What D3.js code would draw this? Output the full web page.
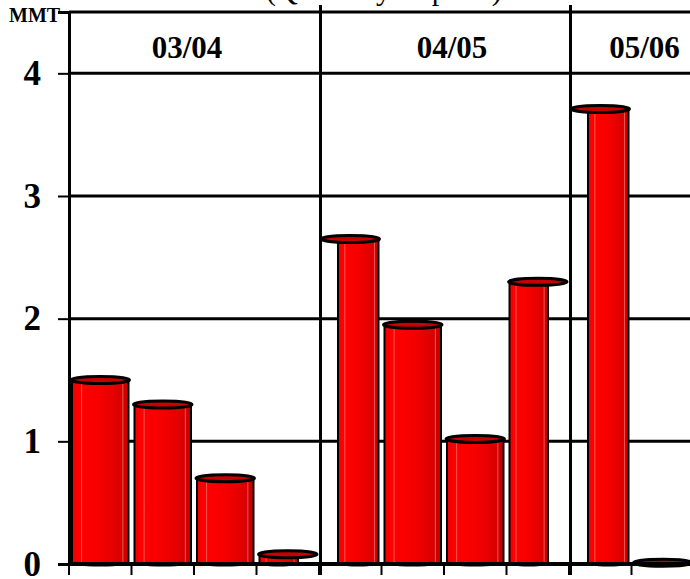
<!DOCTYPE html>
<html>
<head>
<meta charset="utf-8">
<script src="https://cdn.jsdelivr.net/npm/d3@7"></script>
<style>
  html, body { margin: 0; padding: 0; background: #fff; overflow: hidden; }
  text { font-family: "Liberation Serif", "Times New Roman", serif; fill: #000; }
</style>
</head>
<body>
<svg id="chart" width="690" height="579"></svg>
<script>
// Marketing years and how many quarters of each are shown
const periods = ["03/04", "04/05", "05/06"];
const quartersPerPeriod = [4, 4, 2];
const quarterNames = ["Q1", "Q2", "Q3", "Q4"];

// Quarterly exports, million metric tons
const exportsMMT = [1.5, 1.3, 0.7, 0.08, 2.65, 1.95, 1.02, 2.3, 3.71, 0.01];

const yTicks = [0, 1, 2, 3, 4];
const yTop = 4.5;
const title = "(Quarterly Exports)";
const unitLabel = "MMT";

// category keys: one per quarter
const categories = [];
periods.forEach((p, i) => {
  for (let q = 0; q < quartersPerPeriod[i]; q++) categories.push(p + " " + quarterNames[q]);
});
const data = categories.map((c, i) => ({ key: c, period: c.split(" ")[0], value: exportsMMT[i] }));

const svg = d3.select("#chart");
const plotLeft = 69, plotRight = 694, plotBottom = 564, plotTop = 12;
const headingNudge = [-7, 8, 13];

const x = d3.scaleBand().domain(categories).range([plotLeft, plotRight]).padding(0);
const y = d3.scaleLinear().domain([0, yTop]).range([plotBottom, plotTop]);

// period spans in pixels; heading sits near the boundary of the 2nd/3rd quarter
const spans = [];
let idx = 0;
periods.forEach((p, i) => {
  const n = quartersPerPeriod[i];
  const first = categories[idx], last = categories[idx + n - 1];
  spans.push({
    period: p, x0: x(first), x1: x(last) + x.bandwidth(),
    mid: x(categories[idx + Math.min(2, n - 1)]) + headingNudge[i]
  });
  idx += n;
});
const separators = spans.slice(1).map(s => s.x0);

// gradient for cylinder bodies
const defs = svg.append("defs");
const grad = defs.append("linearGradient").attr("id", "cyl").attr("x1", 0).attr("x2", 1).attr("y1", 0).attr("y2", 0);
[[0, "#f00000"], [0.12, "#ff0000"], [0.45, "#f80000"], [0.7, "#e80000"], [0.9, "#d40000"], [1, "#c00000"]]
  .forEach(([o, c]) => grad.append("stop").attr("offset", o).attr("stop-color", c));

// title (partly above the frame)
svg.append("text").attr("x", 384).attr("y", 0).attr("text-anchor", "middle")
  .style("font-size", "30px").text(title);

// unit label
svg.append("text").attr("x", 9).attr("y", 22)
  .style("font-size", "20px").style("font-weight", "bold").text(unitLabel);

// horizontal grid lines (incl. the top frame line)
svg.append("g").selectAll("line").data(yTicks.filter(d => d > 0).concat([yTop])).join("line")
  .attr("x1", plotLeft).attr("x2", plotRight)
  .attr("y1", d => y(d)).attr("y2", d => y(d))
  .attr("stroke", "#000").attr("stroke-width", 3);

// y axis with outward ticks
const yAxis = svg.append("g").attr("transform", `translate(${plotLeft},0)`)
  .call(d3.axisLeft(y).tickValues(yTicks).tickSize(11).tickPadding(17).tickFormat(d3.format("d")));
yAxis.select(".domain").attr("stroke", "#000").attr("stroke-width", 3);
yAxis.selectAll(".tick line").attr("stroke", "#000").attr("stroke-width", 2);
yAxis.selectAll(".tick text")
  .style("font-family", '"Liberation Serif", "Times New Roman", serif')
  .style("font-size", "35px").style("font-weight", "bold").attr("fill", "#000").attr("dy", "0.32em");

// period separators
svg.append("g").selectAll("line").data(separators).join("line")
  .attr("x1", d => d + 1.5).attr("x2", d => d + 1.5).attr("y1", 5).attr("y2", 575)
  .attr("stroke", "#000").attr("stroke-width", 3);

// period headings
svg.append("g").selectAll("text").data(spans).join("text")
  .attr("x", d => d.mid).attr("y", 58).attr("text-anchor", "middle")
  .style("font-size", "31px").style("font-weight", "bold").text(d => d.period);

// cylinders
const ry = 3.5;
const bars = svg.append("g").selectAll("g").data(data).join("g");
bars.each(function(d) {
  const g = d3.select(this);
  const bx0 = x(d.key) + 3, bx1 = x(d.key) + x.bandwidth() - 3;
  let b0 = bx0, b1 = bx1;
  separators.forEach(s => {
    if (bx0 - s >= 0 && bx0 - s < 20) b0 = s + 19;
    if (s - bx1 >= 0 && s - bx1 < 20) b1 = s - 21;
  });
  const yt = y(d.value), yb = y(0) - 2;
  const rx = (b1 - b0) / 2;
  if (yb - yt > 0.5) {
    g.append("path")
      .attr("d", `M${b0},${yt}L${b1},${yt}L${b1},${yb}A${rx},${ry} 0 0 1 ${b0},${yb}Z`)
      .attr("fill", "url(#cyl)");
    // soft highlight streaks
    [0.17, 0.9].forEach(f => g.append("line")
      .attr("x1", b0 + f * (b1 - b0)).attr("x2", b0 + f * (b1 - b0))
      .attr("y1", yt).attr("y2", yb + 2)
      .attr("stroke", "#ff9a9a").attr("stroke-opacity", 0.55).attr("stroke-width", 1));
    g.append("path")
      .attr("d", `M${b0},${yt}L${b0},${yb}A${rx},${ry} 0 0 0 ${b1},${yb}L${b1},${yt}`)
      .attr("fill", "none").attr("stroke", "#000").attr("stroke-width", 2);
  }
  // top cap
  g.append("ellipse")
    .attr("cx", (bx0 + bx1) / 2).attr("cy", yt)
    .attr("rx", (bx1 - bx0) / 2 + 1).attr("ry", ry)
    .attr("fill", "#c80000").attr("stroke", "#000").attr("stroke-width", 3);
});

// floor / x axis
svg.append("line").attr("x1", plotLeft).attr("x2", plotRight).attr("y1", plotBottom).attr("y2", plotBottom)
  .attr("stroke", "#000").attr("stroke-width", 4);
svg.append("g").selectAll("line")
  .data(categories.map(c => x(c)).concat([plotRight])).join("line")
  .attr("x1", d => d).attr("x2", d => d).attr("y1", plotBottom).attr("y2", 575)
  .attr("stroke", "#000").attr("stroke-width", 2);
</script>
</body>
</html>
